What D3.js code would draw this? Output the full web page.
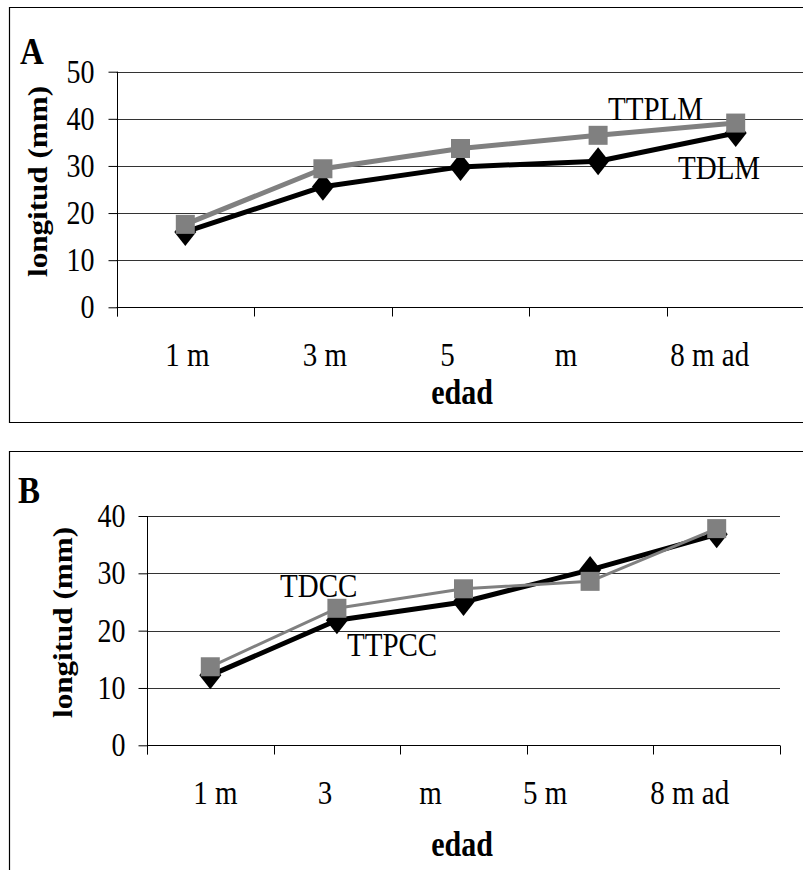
<!DOCTYPE html>
<html>
<head>
<meta charset="utf-8">
<script src="https://cdn.jsdelivr.net/npm/d3@7/dist/d3.min.js"></script>
<style>
  html, body { margin: 0; padding: 0; background: #fff; }
  svg { display: block; font-family: "Liberation Serif", "Times New Roman", serif; }
</style>
</head>
<body>
<svg id="chart" width="803" height="870"></svg>
<script>
// ---- Panel A: length by age (TDLM / TTPLM) ----
const categoriesA = ["1 m", "3 m", "5", "m", "8 m ad"];
const yTicksA = [0, 10, 20, 30, 40, 50];
const tdlmA  = [16.0, 25.6, 29.8, 31.0, 37.0];   // black, diamonds
const ttplmA = [17.6, 29.4, 33.7, 36.5, 39.1];   // gray, squares

// ---- Panel B: length by age (TTPCC / TDCC) ----
const categoriesB = ["1 m", "3", "m", "5 m", "8 m ad"];
const yTicksB = [0, 10, 20, 30, 40];
const ttpccB = [12.2, 21.8, 25.0, 30.6, 36.8];  // black, diamonds
const tdccB  = [13.7, 23.9, 27.3, 28.6, 37.8];  // gray, squares

const svg = d3.select("#chart");
const FONT = 29;
const STRETCH = 1.17;   // tall, narrow serif lettering

// text placed at (x, y) and stretched vertically about its baseline
function label(g, x, y, txt, opts = {}) {
  return g.append("text")
    .attr("transform", `translate(${x},${y}) scale(1,${STRETCH})`)
    .attr("text-anchor", opts.anchor || "start")
    .attr("font-size", opts.size || FONT)
    .attr("font-weight", opts.bold ? "bold" : null)
    .attr("fill", "#000")
    .text(txt);
}

function drawPanel(p) {
  const g = svg.append("g");

  // frame (open at the right edge)
  g.append("path")
    .attr("d", p.frame)
    .attr("fill", "none").attr("stroke", "#000").attr("stroke-width", 1.2);

  const x = d3.scaleBand().domain(d3.range(p.cats.length)).range([p.x0, p.x1]).padding(0);
  const y = d3.scaleLinear().domain([0, p.yMax]).range([p.yBottom, p.yTop]);

  // horizontal gridlines
  g.selectAll(".grid").data(p.ticks.filter(t => t > 0)).join("line")
    .attr("x1", p.x0).attr("x2", p.x1)
    .attr("y1", d => Math.round(y(d)) + 0.5).attr("y2", d => Math.round(y(d)) + 0.5)
    .attr("stroke", "#333").attr("stroke-width", 1);

  // y axis
  const yAxis = d3.axisLeft(y).tickValues(p.ticks).tickSize(9).tickPadding(p.tickPad).tickFormat(d3.format("d"));
  const ya = g.append("g").attr("transform", `translate(${Math.round(p.x0) + 0.5},0)`).call(yAxis);
  ya.select(".domain").remove();
  ya.selectAll(".tick line").attr("stroke", "#000");
  ya.selectAll(".tick text").attr("font-size", 28).attr("fill", "#000")
    .attr("font-family", "Liberation Serif")
    .attr("transform", `scale(1,${STRETCH})`);
  g.append("line")
    .attr("x1", Math.round(p.x0) + 0.5).attr("x2", Math.round(p.x0) + 0.5)
    .attr("y1", y(p.yMax)).attr("y2", y(0) + 9)
    .attr("stroke", "#000");

  // x axis with ticks on category boundaries
  const y0 = Math.round(y(0)) + 0.5;
  g.append("line").attr("x1", p.x0).attr("x2", p.x1).attr("y1", y0).attr("y2", y0).attr("stroke", "#000");
  const bounds = d3.range(p.cats.length + 1).map(i => i < p.cats.length ? x(i) : p.x1);
  g.selectAll(".xt").data(bounds).join("line")
    .attr("x1", d => Math.round(d) + 0.5).attr("x2", d => Math.round(d) + 0.5)
    .attr("y1", y0).attr("y2", y0 + 9).attr("stroke", "#000");

  // category labels
  p.cats.forEach((c, i) => {
    label(g, x(i) + x.bandwidth() / 2 + p.labelShift[i], p.labelY, c, { anchor: "middle" });
  });

  // axis titles
  label(g, p.xTitle[0], p.xTitle[1], "edad", { anchor: "middle", size: 30, bold: true });
  g.append("text")
    .attr("transform", `translate(${p.yTitle[0]},${p.yTitle[1]}) rotate(-90) scale(${STRETCH * 0.95},1)`)
    .attr("text-anchor", "start").attr("font-size", 28).attr("font-weight", "bold")
    .text("longitud (mm)");

  // panel letter
  label(g, p.letterPos[0], p.letterPos[1], p.letter, { size: 33, bold: true });

  const cx = i => x(i) + x.bandwidth() / 2;
  const line = d3.line().x((d, i) => cx(i)).y(d => y(d));

  // black series with diamonds
  g.append("path").attr("d", line(p.black)).attr("fill", "none")
    .attr("stroke", "#000").attr("stroke-width", 5).attr("stroke-linejoin", "round");
  g.selectAll(".dm").data(p.black).join("path")
    .attr("transform", (d, i) => `translate(${cx(i)},${y(d)})`)
    .attr("d", "M0,-14L11,0L0,14L-11,0Z").attr("fill", "#000");

  // gray series with squares
  g.append("path").attr("d", line(p.gray)).attr("fill", "none")
    .attr("stroke", "#808080").attr("stroke-width", p.grayWidth).attr("stroke-linejoin", "round");
  g.selectAll(".sq").data(p.gray).join("rect")
    .attr("x", (d, i) => cx(i) - 9.5).attr("y", d => y(d) - 9.5)
    .attr("width", 19).attr("height", 19).attr("fill", "#808080");

  // series labels
  p.seriesLabels.forEach(s => label(g, s.x, s.y, s.text));
}

drawPanel({
  letter: "A", letterPos: [20, 64],
  frame: "M820,7.5H9.5V422.5H820",
  cats: categoriesA, ticks: yTicksA, yMax: 50,
  black: tdlmA, gray: ttplmA, grayWidth: 5,
  x0: 116.5, x1: 804.5, yBottom: 307.3, yTop: 71.7, tickPad: 14,
  labelShift: [2, 2, -13, -32, -26], labelY: 366,
  xTitle: [462, 404], yTitle: [47, 277],
  seriesLabels: [{ text: "TTPLM", x: 608, y: 120 }, { text: "TDLM", x: 678, y: 179 }]
});

drawPanel({
  letter: "B", letterPos: [18, 503],
  frame: "M820,451.5H9.5V880",
  cats: categoriesB, ticks: yTicksB, yMax: 40,
  black: ttpccB, gray: tdccB, grayWidth: 3,
  x0: 147, x1: 780, yBottom: 745.3, yTop: 516, tickPad: 13,
  labelShift: [5, -12, -33, -45, -27], labelY: 804,
  xTitle: [462, 856], yTitle: [72, 718],
  seriesLabels: [{ text: "TDCC", x: 280, y: 597 }, { text: "TTPCC", x: 347, y: 656 }]
});
</script>
</body>
</html>
